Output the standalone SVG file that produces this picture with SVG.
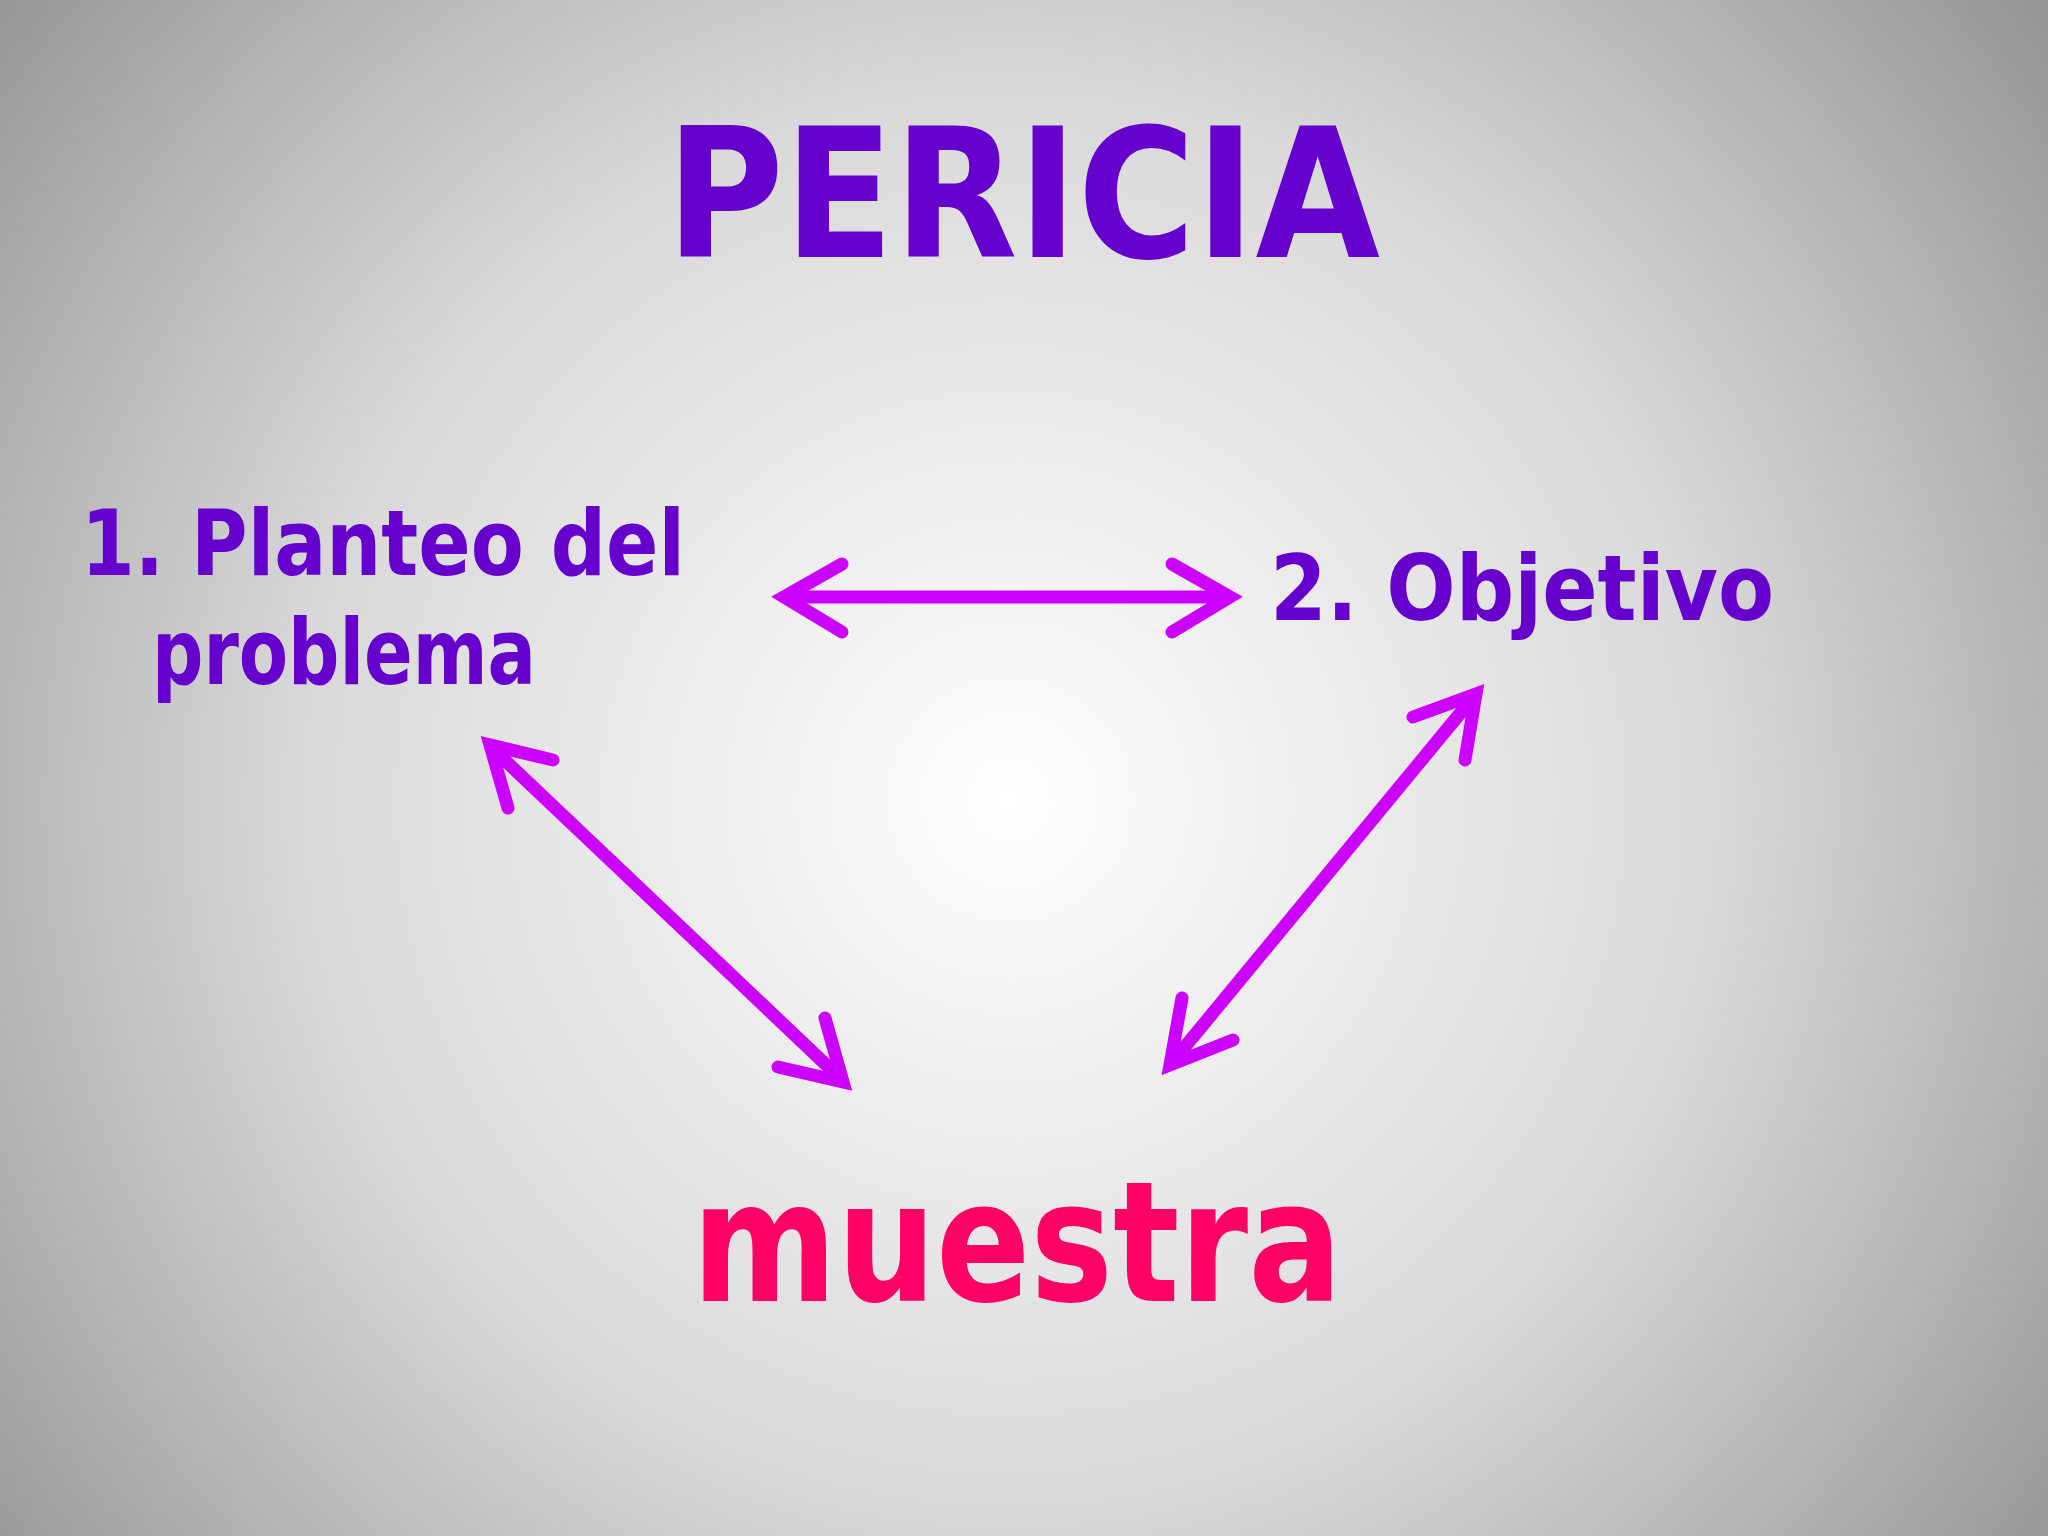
<svg xmlns="http://www.w3.org/2000/svg" width="2048" height="1536" viewBox="0 0 2048 1536">
<style>
.t{font-family:"DejaVu Sans","Liberation Sans",sans-serif;font-weight:bold;fill:#6600CC}
.m{font-family:"DejaVu Sans","Liberation Sans",sans-serif;font-weight:bold;fill:#FF0066}
.a{fill:none;stroke:#CC00FF;stroke-width:13;stroke-linecap:round;stroke-linejoin:miter}
</style>
<defs>
<radialGradient id="bg" gradientUnits="userSpaceOnUse" cx="1010" cy="800" r="1300">
<stop offset="0" stop-color="#ffffff"/>
<stop offset="0.55" stop-color="#d8d8d8"/>
<stop offset="1" stop-color="#969696"/>
</radialGradient>
</defs>
<rect width="2048" height="1536" fill="url(#bg)"/>
<g id="title"><text class="t" x="666" y="257" font-size="180" textLength="714" lengthAdjust="spacingAndGlyphs">PERICIA</text></g>
<g id="node-planteo">
<text class="t" x="81" y="575" font-size="90" textLength="604" lengthAdjust="spacingAndGlyphs">1. Planteo del</text>
<text class="t" x="152" y="684" font-size="90" textLength="384" lengthAdjust="spacingAndGlyphs">problema</text>
</g>
<g id="node-objetivo"><text class="t" x="1270" y="620" font-size="90" textLength="504" lengthAdjust="spacingAndGlyphs">2. Objetivo</text></g>
<g id="node-muestra"><text class="m" x="692" y="1301" font-size="168" textLength="650" lengthAdjust="spacingAndGlyphs">muestra</text></g>
<g id="connectors">
<path class="a" d="M790 597 H1225"/>
<path class="a" d="M842 564 L784 597 L842 632"/>
<path class="a" d="M1172 564 L1230 597 L1172 632"/>
<path class="a" d="M494 750 L839 1077"/>
<path class="a" d="M553 760 L490 745 L508 808"/>
<path class="a" d="M825 1018 L843 1082 L778 1067"/>
<path class="a" d="M1472 699 L1174 1060"/>
<path class="a" d="M1413 717 L1476 694 L1465 760"/>
<path class="a" d="M1182 998 L1170 1065 L1233 1040"/>
</g>
</svg>
